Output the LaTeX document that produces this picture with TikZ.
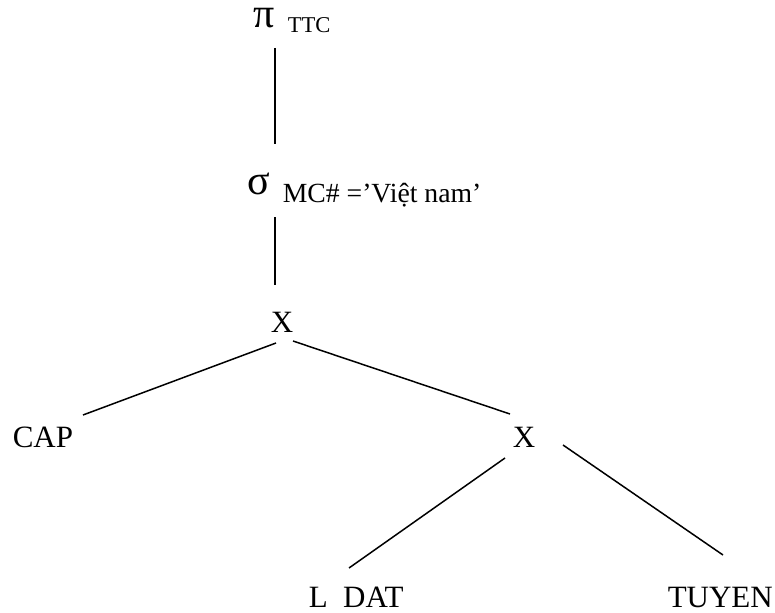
\documentclass[tikz,border=0pt]{standalone}
\usepackage{fontspec}
\setmainfont{Liberation Serif}
\begin{document}
\begin{tikzpicture}[x=1pt,y=-1pt,line width=1.5pt,
    every node/.style={inner sep=0pt,font=\fontsize{31}{36}\selectfont},
    op/.style={anchor=base west,font=\fontsize{42}{48}\selectfont},
    sub/.style={anchor=base west,font=\fontsize{22.6}{26}\selectfont}]
    \useasboundingbox (0,0) rectangle (775,612);
    % projection and selection
    \node[op] (pi) at (253,28) {π};
    \node[sub] (ttc) at (287,33) {TTC};
    \node[op] (sig) at (247,195) {σ};
    \node[sub,font=\fontsize{27.7}{32}\selectfont] (cond) at (282,203) {MC\# =’Việt nam’};
    % products and relations
    \node[anchor=base] (x1) at (282,332) {X};
    \node[anchor=base west] (cap) at (12,447) {CAP};
    \node[anchor=base] (x2) at (524,447) {X};
    \node[anchor=base west] (ldat) at (308,607) {L\ \ DAT};
    \node[anchor=base west] (tuyen) at (667,607) {TUYEN};
    % line ends
    \coordinate (pi-b) at (275,48);
    \coordinate (sig-t) at (275,144);
    \coordinate (sig-b) at (275,217);
    \coordinate (x1-t) at (275,285);
    \coordinate (x1-l) at (276,343);
    \coordinate (x1-r) at (293,341);
    \coordinate (cap-t) at (83,415);
    \coordinate (x2-t) at (510,414);
    \coordinate (x2-l) at (505,458);
    \coordinate (x2-r) at (563,445);
    \coordinate (ldat-t) at (349,568);
    \coordinate (tuyen-t) at (723,555);
    \draw (pi-b) -- (sig-t);
    \draw (sig-b) -- (x1-t);
    \draw (x1-l) -- (cap-t);
    \draw (x1-r) -- (x2-t);
    \draw (x2-l) -- (ldat-t);
    \draw (x2-r) -- (tuyen-t);
\end{tikzpicture}
\end{document}
